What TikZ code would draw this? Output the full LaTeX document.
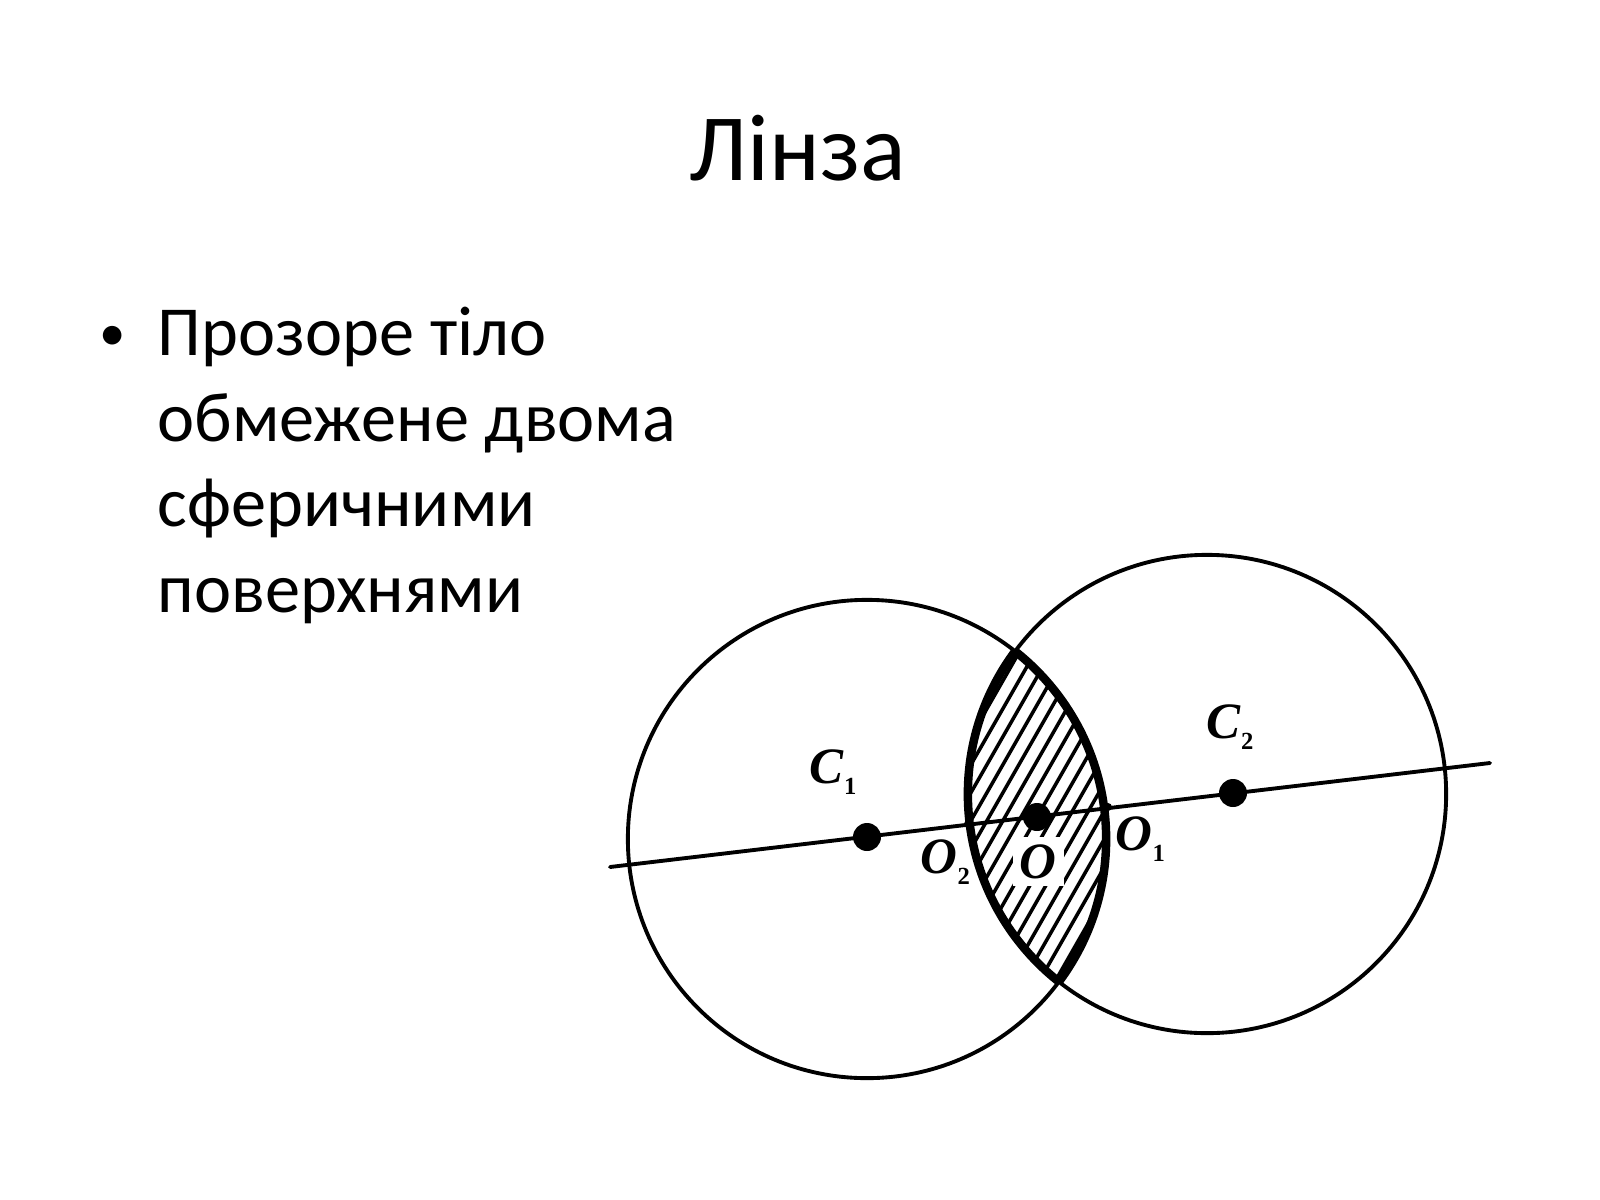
\documentclass[tikz,border=0pt]{standalone}
\usepackage{fontspec}
\setmainfont{Carlito}
\newfontfamily\figserif{Liberation Serif}
\usepackage{tikz}
\usetikzlibrary{
  calc,
  positioning
}

% point label: bold italic letter with a small index
\newcommand{\ptlabel}[2]{\textbf{\textit{#1}}\raisebox{-3.2pt}{\fontsize{7}{7}\selectfont\bfseries #2}}

\begin{document}
\begin{tikzpicture}[
      x=0.01cm, y=-0.01cm,
      title/.style={
         inner sep=0pt,
         font=\fontsize{27}{32}\selectfont
      },
      body/.style={
         inner sep=0pt,
         anchor=base west,
         font=\fontsize{20}{24}\selectfont
      },
      sphere/.style={draw=black, line width=1.1pt},
      lens edge/.style={draw=black, line width=2.4pt},
      hatch/.style={draw=black, line width=1pt},
      axis/.style={draw=black, line width=1.1pt, line cap=round},
      big dot/.style={circle, fill=black, inner sep=0pt, minimum size=0.28cm},
      small dot/.style={circle, fill=black, inner sep=0pt, minimum size=0.08cm},
      point label/.style={inner sep=0pt, anchor=base west,
         font=\figserif\fontsize{14.5}{14}\selectfont}
    ]
    \useasboundingbox (0,0) rectangle (1600,1200);

    % text of the slide
    \node (title) [title, anchor=base] at (798,180) {Лінза};
    \node (bullet) [body, font=\fontsize{15}{18}\selectfont] at (99,350) {•};
    \node (line1) [body] at (157,355) {Прозоре тіло};
    \node (line2) [body] at (157,441) {обмежене двома};
    \node (line3) [body] at (157,526) {сферичними};
    \node (line4) [body] at (157,612) {поверхнями};

    % the two spheres
    \coordinate (m1) at (867,839);
    \coordinate (m2) at (1207,794);
    \draw[sphere] (m1) circle[radius=2.39cm];
    \draw[sphere] (m2) circle[radius=2.39cm];

    % hatched lens
    \coordinate (o) at (1037,817);
    \begin{scope}
      \clip (m1) circle[radius=2.39cm];
      \draw[lens edge] (m2) circle[radius=2.39cm];
      \clip (m2) circle[radius=2.39cm];
      \foreach \i in {-12,...,12}
        \draw[hatch] ($(o)+(\i*16,0)+(-120,210)$) -- ++(240,-420);
    \end{scope}
    \begin{scope}
      \clip (m2) circle[radius=2.39cm];
      \draw[lens edge] (m1) circle[radius=2.39cm];
    \end{scope}

    % optical axis
    \coordinate (ax1) at (610,867);
    \coordinate (ax2) at (1490,763);
    \draw[axis] (ax1) -- (ax2);

    \node (c1) [big dot] at (867,837) {};
    \node (c2) [big dot] at (1233,793) {};
    \node (o0) [big dot] at (o) {};
    \node (o1) [small dot] at (1108,807) {};
    \node (o2) [small dot] at (968,824) {};

    % labels
    \node (lc1) [point label] at (809,783) {\ptlabel{C}{1}};
    \node (lc2) [point label] at (1206,738) {\ptlabel{C}{2}};
    \node (lo2) [point label] at (920,873) {\ptlabel{O}{2}};
    \node (lo) [point label, fill=white, inner sep=2pt] at (1012,878) {\textbf{\textit{O}}};
    \node (lo1) [point label] at (1115,850) {\ptlabel{O}{1}};
\end{tikzpicture}
\end{document}
